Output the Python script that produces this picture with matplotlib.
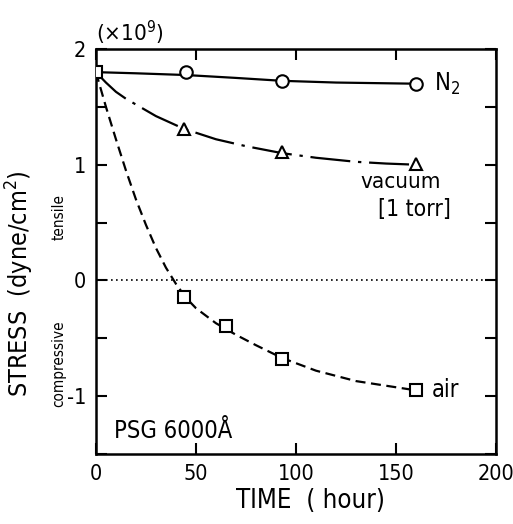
import numpy as np
import matplotlib
matplotlib.use("Agg")
import matplotlib.pyplot as plt

# measured points (x in hours, y in 1e9 dyne/cm^2)
n2_t = [0, 45, 93, 160]
n2_s = [1.80, 1.80, 1.72, 1.70]
vac_t = [44, 93, 160]
vac_s = [1.31, 1.11, 1.01]
air_t = [0, 44, 65, 93, 160]
air_s = [1.80, -0.14, -0.39, -0.68, -0.95]

# hand-drawn guide curves
n2_ct = [0, 20, 45, 70, 93, 120, 140, 160]
n2_cs = [1.80, 1.79, 1.775, 1.75, 1.725, 1.71, 1.705, 1.70]
vac_ct = [0, 5, 10, 15, 20, 30, 44, 60, 75, 93, 110, 130, 145, 160]
vac_cs = [1.80, 1.71, 1.63, 1.57, 1.52, 1.42, 1.31, 1.22, 1.16, 1.10, 1.06, 1.025, 1.01, 1.00]
air_ct = [0, 5, 10, 15, 20, 25, 30, 35, 40, 45, 50, 60, 70, 80, 93, 110, 130, 145, 160]
air_cs = [1.80, 1.50, 1.22, 0.95, 0.70, 0.48, 0.28, 0.11, -0.03, -0.15, -0.24, -0.37, -0.47, -0.56, -0.67, -0.78, -0.87, -0.91, -0.95]

plt.rcParams["font.family"] = ["DejaVu Sans Condensed", "DejaVu Sans"]
plt.rcParams["font.stretch"] = "condensed"
plt.rcParams["axes.unicode_minus"] = False

fig = plt.figure(figsize=(5.13, 5.24), dpi=100)
ax = fig.add_axes([0.187, 0.1336, 0.78, 0.7729])

lw = 1.6
ax.plot(n2_ct, n2_cs, color="black", lw=lw, zorder=2)
ax.plot(vac_ct, vac_cs, color="black", lw=lw, dashes=(18, 3.5, 1.5, 3.5), zorder=2)
ax.plot(air_ct, air_cs, color="black", lw=lw, dashes=(4.5, 2.5), zorder=2)
ax.axhline(0, color="black", lw=1.2, ls=(0, (1, 2)), zorder=1)

ax.plot(n2_t[1:], n2_s[1:], "o", ms=9, mfc="white", mec="black", mew=1.5, ls="none", zorder=3)
ax.plot(vac_t, vac_s, "^", ms=9, mfc="white", mec="black", mew=1.5, ls="none", zorder=3)
ax.plot(air_t, air_s, "s", ms=8, mfc="white", mec="black", mew=1.5, ls="none", zorder=3)

ax.set_xlim(0, 200)
ax.set_ylim(-1.5, 2)
ax.set_xticks([0, 50, 100, 150, 200])
ax.set_yticks([-1, 0, 1, 2])
ax.set_yticks(np.arange(-1.5, 2.01, 0.5), minor=True)
ax.set_xticks([50, 100, 150], minor=True)
ax.tick_params(which="both", direction="in", top=True, right=True, width=1.5)
ax.tick_params(which="major", length=8, labelsize=15.5, pad=7)
ax.tick_params(which="minor", length=8)
for s in ax.spines.values():
    s.set_linewidth(1.8)

ax.set_xlabel("TIME  ( hour)", fontsize=18.5)
ax.xaxis.set_label_coords(0.537, -0.085)
ax.set_ylabel(r"STRESS  (dyne/cm$^2$)", fontsize=18)
ax.yaxis.set_label_coords(-0.15, 0.42)

ax.text(-0.093, 0.55, "tensile", transform=ax.get_yaxis_transform(), rotation=90,
        ha="center", va="center", fontsize=11)
ax.text(-0.093, -0.72, "compressive", transform=ax.get_yaxis_transform(), rotation=90,
        ha="center", va="center", fontsize=11)
ax.text(-0.02, 2.14, r"($\times$10$^9$)", ha="left", va="center", fontsize=16, clip_on=False)

ax.text(169, 1.70, r"N$_2$", ha="left", va="center", fontsize=17)
ax.text(132, 0.85, "vacuum", ha="left", va="center", fontsize=16)
ax.text(141, 0.61, "[1 torr]", ha="left", va="center", fontsize=16.5)
ax.text(168, -0.95, "air", ha="left", va="center", fontsize=17)
ax.text(9, -1.30, "PSG 6000Å", ha="left", va="center", fontsize=17)

fig.savefig("out.png", dpi=100)
